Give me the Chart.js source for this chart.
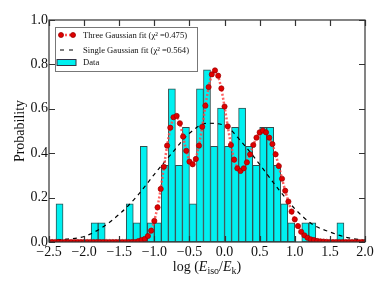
<!DOCTYPE html>
<html>
<head>
<meta charset="utf-8">
<script src="https://cdn.jsdelivr.net/npm/chart.js@4.4.0/dist/chart.umd.min.js"></script>
<style>
  html, body { margin: 0; padding: 0; background: #fff; }
  #wrap { width: 388px; height: 291px; }
</style>
</head>
<body>
<div id="wrap"><canvas id="chart" width="388" height="291"></canvas></div>
<script>
// histogram bins (width 0.1) and probabilities
const binCenters = [-2.45, -2.35, -2.25, -2.15, -2.05, -1.95, -1.85, -1.75, -1.65, -1.55,
  -1.45, -1.35, -1.25, -1.15, -1.05, -0.95, -0.85, -0.75, -0.65, -0.55,
  -0.45, -0.35, -0.25, -0.15, -0.05, 0.05, 0.15, 0.25, 0.35, 0.45,
  0.55, 0.65, 0.75, 0.85, 0.95, 1.05, 1.15, 1.25, 1.35, 1.45,
  1.55, 1.65, 1.75, 1.85, 1.95];
const binProb = [0, 0.172, 0, 0, 0, 0, 0.086, 0.086, 0, 0,
  0, 0.172, 0.086, 0.431, 0.086, 0.086, 0.345, 0.690, 0.345, 0.517,
  0.172, 0.690, 0.776, 0.431, 0.603, 0.431, 0.517, 0.603, 0.431, 0.345,
  0.517, 0.517, 0.345, 0.172, 0.086, 0, 0.086, 0.086, 0, 0,
  0, 0.086, 0, 0, 0];

// three gaussian fit, 100 samples over -2.5..2.0
const fitStart = -2.5, fitEnd = 2.0;
const threeFit = [0, 0, 0, 0, 0, 0, 0, 0, 0, 0,
  0, 0, 0, 0, 0, 0, 0, 0, 0, 0,
  0, 0, 0, 0, 0, 0, 0, 0, 0.004, 0.009,
  0.014, 0.027, 0.051, 0.095, 0.156, 0.239, 0.339, 0.434, 0.515, 0.562,
  0.568, 0.535, 0.475, 0.411, 0.362, 0.350, 0.374, 0.434, 0.519, 0.614,
  0.698, 0.755, 0.773, 0.749, 0.692, 0.610, 0.521, 0.437, 0.371, 0.332,
  0.320, 0.332, 0.359, 0.395, 0.437, 0.470, 0.494, 0.502, 0.494, 0.470,
  0.441, 0.395, 0.342, 0.285, 0.231, 0.182, 0.137, 0.102, 0.072, 0.046,
  0.030, 0.019, 0.012, 0.009, 0.005, 0.003, 0.002, 0.001, 0, 0,
  0, 0, 0, 0, 0, 0, 0, 0, 0, 0];

// single gaussian fit
const singleX = [-2.5, -2.25, -2.0, -1.75, -1.5, -1.25, -1.0, -0.75, -0.5, -0.25,
  0.0, 0.25, 0.5, 0.75, 1.0, 1.25, 1.5, 1.75, 2.0];
const singleFit = [0.006, 0.013, 0.025, 0.064, 0.125, 0.205, 0.305, 0.400, 0.490, 0.535,
  0.525, 0.448, 0.350, 0.245, 0.150, 0.080, 0.045, 0.020, 0.007];

const xTicks = [-2.5, -2.0, -1.5, -1.0, -0.5, 0.0, 0.5, 1.0, 1.5, 2.0];
const yTicks = [0.0, 0.2, 0.4, 0.6, 0.8, 1.0];

const SERIF = '"Liberation Serif", "DejaVu Serif", serif';
const fmt = v => (v < 0 ? '\u2212' : '') + Math.abs(v).toFixed(1);

const fitStep = (fitEnd - fitStart) / (threeFit.length - 1);
const threeData = threeFit.map((y, i) => ({ x: fitStart + i * fitStep, y }));
const singleData = singleX.map((x, i) => ({ x, y: singleFit[i] }));
const barData = binCenters.map((x, i) => ({ x, y: binProb[i] }));

const frame = {
    id: 'frame',
    afterDraw(chart) {
        const { ctx, chartArea: a, scales } = chart;
        ctx.save();
        ctx.strokeStyle = '#333';
        ctx.lineWidth = 1.2;
        // inward ticks on all sides
        ctx.beginPath();
        xTicks.forEach(v => {
            const px = Math.round(scales.x.getPixelForValue(v)) + 0.5;
            ctx.moveTo(px, a.bottom); ctx.lineTo(px, a.bottom - 6);
            ctx.moveTo(px, a.top); ctx.lineTo(px, a.top + 6);
        });
        yTicks.forEach(v => {
            const py = Math.round(scales.y.getPixelForValue(v)) + 0.5;
            ctx.moveTo(a.left, py); ctx.lineTo(a.left + 6, py);
            ctx.moveTo(a.right, py); ctx.lineTo(a.right - 6, py);
        });
        ctx.stroke();
        ctx.strokeRect(a.left, a.top, a.right - a.left, a.bottom - a.top);

        // legend
        const lx = 55.5, ly = 27.5;
        ctx.fillStyle = '#fff';
        ctx.fillRect(lx, ly, 142, 44);
        ctx.strokeStyle = '#777';
        ctx.lineWidth = 1;
        ctx.strokeRect(lx, ly, 142, 44);

        ctx.strokeStyle = 'rgba(255,70,70,0.9)';
        ctx.lineWidth = 2.5;
        ctx.setLineDash([2, 2]);
        ctx.beginPath(); ctx.moveTo(61, 35); ctx.lineTo(73, 35); ctx.stroke();
        ctx.setLineDash([]);
        ctx.fillStyle = '#e00000';
        ctx.strokeStyle = '#900';
        ctx.lineWidth = 0.8;
        [61, 73].forEach(cx => {
            ctx.beginPath(); ctx.arc(cx, 35, 2.5, 0, Math.PI * 2); ctx.fill(); ctx.stroke();
        });

        ctx.strokeStyle = '#000';
        ctx.lineWidth = 1.2;
        ctx.beginPath();
        ctx.moveTo(60, 50); ctx.lineTo(64, 50);
        ctx.moveTo(69, 50); ctx.lineTo(73, 50);
        ctx.stroke();

        ctx.fillStyle = '#00f0f0';
        ctx.fillRect(57, 59.5, 19, 6);
        ctx.strokeStyle = '#334';
        ctx.lineWidth = 1;
        ctx.strokeRect(57, 59.5, 19, 6);

        ctx.fillStyle = '#111';
        ctx.font = '8.6px ' + SERIF;
        ctx.textBaseline = 'middle';
        ctx.textAlign = 'left';
        ctx.fillText('Three Gaussian fit (\u03c7\u00b2 =0.475)', 83, 35.5);
        ctx.fillText('Single Gaussian fit (\u03c7\u00b2 =0.564)', 83, 50.5);
        ctx.fillText('Data', 83, 62.5);

        // y title
        ctx.save();
        ctx.translate(20, (a.top + a.bottom) / 2);
        ctx.rotate(-Math.PI / 2);
        ctx.textAlign = 'center';
        ctx.font = '14px ' + SERIF;
        ctx.fillText('Probability', 0, 0);
        ctx.restore();

        // x title with subscripts
        const parts = [
            { t: 'log (', f: '14px ' + SERIF, dy: 0 },
            { t: 'E', f: 'italic 14px ' + SERIF, dy: 0 },
            { t: 'iso', f: '10px ' + SERIF, dy: 3 },
            { t: '/', f: '14px ' + SERIF, dy: 0 },
            { t: 'E', f: 'italic 14px ' + SERIF, dy: 0 },
            { t: 'k', f: '10px ' + SERIF, dy: 3 },
            { t: ')', f: '14px ' + SERIF, dy: 0 }
        ];
        let total = 0;
        parts.forEach(p => { ctx.font = p.f; p.w = ctx.measureText(p.t).width; total += p.w; });
        let x = (a.left + a.right) / 2 - total / 2;
        ctx.textBaseline = 'alphabetic';
        parts.forEach(p => { ctx.font = p.f; ctx.fillText(p.t, x, 271 + p.dy); x += p.w; });
        ctx.restore();
    }
};

new Chart(document.getElementById('chart').getContext('2d'), {
    type: 'bar',
    data: {
        datasets: [
            {
                type: 'line',
                label: 'Three Gaussian fit',
                data: threeData,
                borderColor: 'rgba(255,70,70,0.85)',
                borderWidth: 2.5,
                borderDash: [2, 2],
                pointRadius: 2.6,
                pointBackgroundColor: '#e00000',
                pointBorderColor: '#900',
                pointBorderWidth: 0.7,
                tension: 0,
                order: 1
            },
            {
                type: 'line',
                label: 'Single Gaussian fit',
                data: singleData,
                borderColor: '#000',
                borderWidth: 1.2,
                borderDash: [4, 4],
                pointRadius: 0,
                cubicInterpolationMode: 'monotone',
                order: 2
            },
            {
                label: 'Data',
                data: barData,
                backgroundColor: '#00f0f0',
                borderColor: '#2f4f4f',
                borderWidth: c => (c.raw && c.raw.y > 0 ? 1 : 0),
                borderSkipped: false,
                barPercentage: 1,
                categoryPercentage: 1,
                grouped: false,
                order: 3
            }
        ]
    },
    options: {
        responsive: false,
        animation: false,
        layout: { padding: { left: 0, right: 23, top: 20, bottom: 0 } },
        plugins: { legend: { display: false }, tooltip: { enabled: false } },
        scales: {
            x: {
                type: 'linear',
                min: -2.5,
                max: 2.0,
                offset: false,
                afterBuildTicks: s => { s.ticks = xTicks.map(v => ({ value: v })); },
                afterFit: s => { s.height = 49; },
                grid: { display: false, drawTicks: false },
                border: { display: false },
                ticks: { callback: fmt, padding: 2, color: '#111', font: { family: SERIF, size: 14 }, maxRotation: 0 }
            },
            y: {
                min: 0,
                max: 1.0,
                afterBuildTicks: s => { s.ticks = yTicks.map(v => ({ value: v })); },
                afterFit: s => { s.width = 49; },
                grid: { display: false, drawTicks: false },
                border: { display: false },
                ticks: { callback: fmt, padding: 1, color: '#111', font: { family: SERIF, size: 14 } }
            }
        }
    },
    plugins: [frame]
});
</script>
</body>
</html>
